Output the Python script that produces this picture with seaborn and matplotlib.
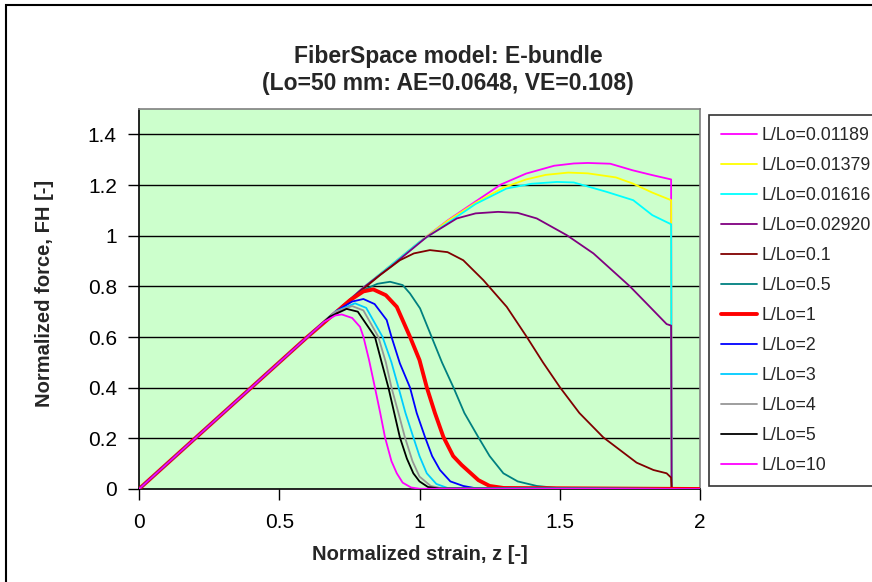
import matplotlib
matplotlib.use("Agg")
import matplotlib.pyplot as plt
import seaborn as sns
import pandas as pd
from matplotlib.patches import Rectangle

# --- data: normalized strain z and normalized force FH for each L/Lo ---
z_01189 = [0, 0.2, 0.4, 0.6, 0.8, 0.9, 1.0, 1.1, 1.2, 1.29, 1.38, 1.48, 1.55, 1.6, 1.68, 1.76, 1.83, 1.897, 1.899, 2.0]
f_01189 = [0, 0.2, 0.4, 0.6, 0.795, 0.885, 0.975, 1.06, 1.135, 1.202, 1.245, 1.276, 1.285, 1.287, 1.284, 1.258, 1.239, 1.222, 0, 0]

z_01379 = [0, 0.2, 0.4, 0.6, 0.8, 0.9, 1.0, 1.1, 1.2, 1.3, 1.38, 1.45, 1.53, 1.6, 1.7, 1.76, 1.83, 1.897, 1.899, 2.0]
f_01379 = [0, 0.2, 0.4, 0.6, 0.795, 0.885, 0.975, 1.058, 1.13, 1.19, 1.222, 1.24, 1.249, 1.246, 1.23, 1.206, 1.17, 1.14, 0, 0]

z_01616 = [0, 0.2, 0.4, 0.6, 0.8, 0.9, 1.0, 1.1, 1.2, 1.31, 1.4, 1.49, 1.55, 1.667, 1.762, 1.83, 1.897, 1.899, 2.0]
f_01616 = [0, 0.2, 0.4, 0.6, 0.795, 0.885, 0.975, 1.05, 1.125, 1.186, 1.205, 1.212, 1.21, 1.173, 1.14, 1.081, 1.045, 0, 0]

z_02920 = [0, 0.2, 0.4, 0.6, 0.8, 0.9, 1.026, 1.133, 1.2, 1.28, 1.35, 1.418, 1.525, 1.62, 1.75, 1.81, 1.881, 1.897, 1.899, 2.0]
f_02920 = [0, 0.2, 0.4, 0.6, 0.795, 0.88, 0.995, 1.068, 1.088, 1.094, 1.09, 1.068, 1.002, 0.93, 0.80, 0.732, 0.651, 0.645, 0, 0]

z_0_1 = [0, 0.2, 0.4, 0.6, 0.8, 0.86, 0.93, 0.98, 1.037, 1.1, 1.156, 1.228, 1.311, 1.382, 1.44, 1.501, 1.57, 1.655, 1.774, 1.834, 1.881, 1.897, 1.899, 2.0]
f_0_1 = [0, 0.2, 0.4, 0.6, 0.79, 0.845, 0.903, 0.93, 0.943, 0.935, 0.903, 0.824, 0.719, 0.601, 0.50, 0.401, 0.30, 0.204, 0.104, 0.075, 0.062, 0.045, 0, 0]

z_0_5 = [0, 0.2, 0.4, 0.6, 0.75, 0.8, 0.85, 0.895, 0.94, 0.966, 1.002, 1.043, 1.08, 1.121, 1.16, 1.21, 1.25, 1.299, 1.35, 1.418, 1.5, 2.0]
f_0_5 = [0, 0.2, 0.4, 0.6, 0.745, 0.785, 0.81, 0.818, 0.805, 0.772, 0.713, 0.601, 0.50, 0.401, 0.30, 0.204, 0.13, 0.062, 0.03, 0.012, 0.003, 0]

z_1 = [0, 0.2, 0.4, 0.6, 0.752, 0.8, 0.835, 0.88, 0.919, 0.966, 1.0, 1.026, 1.055, 1.085, 1.12, 1.15, 1.21, 1.25, 1.3, 2.0]
f_1 = [0, 0.2, 0.4, 0.6, 0.745, 0.78, 0.788, 0.765, 0.719, 0.601, 0.509, 0.401, 0.30, 0.206, 0.13, 0.095, 0.035, 0.012, 0.004, 0]

z_2 = [0, 0.2, 0.4, 0.6, 0.7, 0.76, 0.80, 0.84, 0.883, 0.90, 0.93, 0.966, 0.99, 1.02, 1.045, 1.073, 1.11, 1.156, 1.2, 2.0]
f_2 = [0, 0.2, 0.4, 0.6, 0.70, 0.74, 0.75, 0.73, 0.667, 0.601, 0.496, 0.401, 0.30, 0.204, 0.13, 0.075, 0.03, 0.012, 0.003, 0]

z_3 = [0, 0.2, 0.4, 0.6, 0.7, 0.77, 0.81, 0.868, 0.90, 0.925, 0.95, 0.978, 1.0, 1.026, 1.06, 1.1, 2.0]
f_3 = [0, 0.2, 0.4, 0.6, 0.70, 0.733, 0.715, 0.601, 0.50, 0.401, 0.30, 0.204, 0.13, 0.062, 0.02, 0.004, 0]

z_4 = [0, 0.2, 0.4, 0.6, 0.7, 0.76, 0.80, 0.853, 0.88, 0.90, 0.925, 0.948, 0.975, 1.0, 1.04, 1.08, 2.0]
f_4 = [0, 0.2, 0.4, 0.6, 0.70, 0.722, 0.705, 0.601, 0.50, 0.401, 0.30, 0.204, 0.11, 0.049, 0.012, 0.003, 0]

z_5 = [0, 0.2, 0.4, 0.6, 0.68, 0.74, 0.78, 0.841, 0.865, 0.889, 0.91, 0.93, 0.955, 0.978, 1.0, 1.03, 1.07, 2.0]
f_5 = [0, 0.2, 0.4, 0.6, 0.68, 0.711, 0.70, 0.601, 0.50, 0.401, 0.30, 0.204, 0.12, 0.062, 0.03, 0.008, 0.002, 0]

z_10 = [0, 0.2, 0.4, 0.6, 0.66, 0.70, 0.723, 0.76, 0.788, 0.80, 0.82, 0.841, 0.86, 0.877, 0.90, 0.919, 0.94, 0.97, 1.0, 2.0]
f_10 = [0, 0.2, 0.4, 0.6, 0.66, 0.685, 0.689, 0.675, 0.64, 0.601, 0.51, 0.401, 0.30, 0.204, 0.11, 0.062, 0.025, 0.006, 0.001, 0]

labels = ["L/Lo=0.01189", "L/Lo=0.01379", "L/Lo=0.01616", "L/Lo=0.02920", "L/Lo=0.1",
          "L/Lo=0.5", "L/Lo=1", "L/Lo=2", "L/Lo=3", "L/Lo=4", "L/Lo=5", "L/Lo=10"]
series_z = [z_01189, z_01379, z_01616, z_02920, z_0_1, z_0_5, z_1, z_2, z_3, z_4, z_5, z_10]
series_f = [f_01189, f_01379, f_01616, f_02920, f_0_1, f_0_5, f_1, f_2, f_3, f_4, f_5, f_10]
colors = ["#FF00FF", "#FFFF00", "#00FFFF", "#800080", "#800000", "#008080",
          "#FF0000", "#0000FF", "#00CCFF", "#969696", "#000000", "#FF00FF"]
widths = [1.3] * 12
widths[6] = 2.8

x_ticks = [0, 0.5, 1, 1.5, 2]
x_ticklabels = ["0", "0.5", "1", "1.5", "2"]
y_ticks = [0, 0.2, 0.4, 0.6, 0.8, 1.0, 1.2, 1.4]
y_ticklabels = ["0", "0.2", "0.4", "0.6", "0.8", "1", "1.2", "1.4"]

sns.set_theme(style="white")
plt.rcParams["font.family"] = ["Liberation Sans", "DejaVu Sans"]

W, H = 872, 582
fig = plt.figure(figsize=(W / 100, H / 100), dpi=100)
fig.patch.set_facecolor("white")

# axes placed in pixel terms: plot area 139..700 x 109..489
ax = fig.add_axes([139 / W, 1 - 489 / H, (700 - 139) / W, (489 - 109) / H])
ax.set_facecolor("#CCFFCC")

for yv in y_ticks[1:]:
    ax.axhline(yv, color="#000000", lw=1.0, zorder=1)

handles = []
for z, f, lab, c, w in zip(series_z, series_f, labels, colors, widths):
    df = pd.DataFrame({"z": z, "f": f})
    sns.lineplot(data=df, x="z", y="f", ax=ax, color=c, lw=w, sort=False,
                 estimator=None, zorder=3, legend=False)
    handles.append(ax.lines[-1])

ax.set_xlim(0, 2)
ax.set_ylim(0, 1.5)
ax.set_xticks(x_ticks)
ax.set_xticklabels(x_ticklabels)
ax.set_yticks(y_ticks)
ax.set_yticklabels(y_ticklabels)
ax.tick_params(axis="both", direction="out", length=8, width=1, color="black",
               labelsize=15, labelcolor="black", left=True, bottom=True)
ax.tick_params(axis="y", pad=8)
ax.tick_params(axis="x", pad=9)

for side in ["left", "bottom"]:
    ax.spines[side].set_color("black")
    ax.spines[side].set_linewidth(1.2)
for side in ["top", "right"]:
    ax.spines[side].set_color("#808080")
    ax.spines[side].set_linewidth(1.2)

ax.set_xlabel("Normalized strain, z [-]", fontsize=14.5, fontweight="bold")
ax.set_ylabel("Normalized force, FH [-]", fontsize=14.5, fontweight="bold")
ax.xaxis.set_label_coords(0.5, (489 - 555) / 380)
ax.xaxis.label.set_verticalalignment("center")
ax.yaxis.set_label_coords((45 - 139) / 561, (489 - 293) / 380)
ax.yaxis.label.set_verticalalignment("center")

fig.text(448 / W, 1 - 57 / H, "FiberSpace model: E-bundle", ha="center", va="center",
         fontsize=16.5, fontweight="bold")
fig.text(448 / W, 1 - 84 / H, "(Lo=50 mm: AE=0.0648, VE=0.108)", ha="center", va="center",
         fontsize=16.5, fontweight="bold")

leg = fig.legend(handles, labels, loc="upper left", bbox_to_anchor=(709 / W, 1 - 115 / H),
                 bbox_transform=fig.transFigure, frameon=True, fancybox=False,
                 fontsize=12.8, handlelength=2.0, handletextpad=0.3, labelspacing=0.73,
                 borderpad=0.68, borderaxespad=0)
leg.get_frame().set_edgecolor("black")
leg.get_frame().set_linewidth(1.2)
leg.get_frame().set_facecolor("white")

# chart border around the whole figure
fig.patches.append(Rectangle((6 / W, -0.1), 1.2, 1 - 5 / H + 0.1, transform=fig.transFigure,
                             fill=False, edgecolor="black", lw=1.5))

fig.savefig("out.png", dpi=100)
